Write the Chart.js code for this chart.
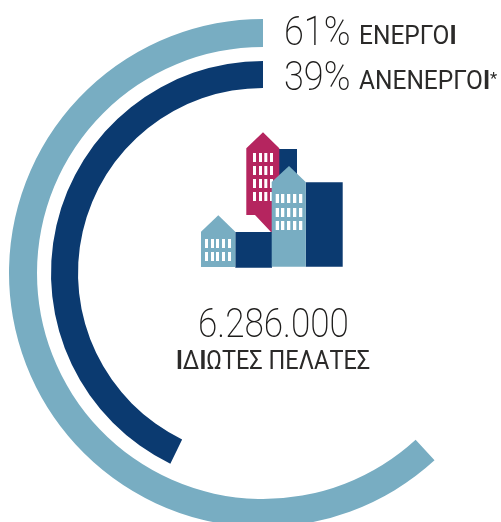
<!DOCTYPE html>
<html lang="el"><head><meta charset="utf-8">
<script src="https://cdn.jsdelivr.net/npm/chart.js@4"></script>
<style>
html,body{margin:0;padding:0;background:#fff;width:501px;height:522px;overflow:hidden}
#wrap{position:relative;width:501px;height:522px;overflow:hidden}
canvas{position:absolute;left:0;top:0}
.t{position:absolute;white-space:nowrap;color:#2b2a29;font-family:Roboto,sans-serif;transform-origin:0 0;line-height:1}
.big{font-weight:200;font-size:41px;color:#1c1b1a}
.small{font-weight:400;font-size:25px}
.t b{font-weight:700}
.t i{font-style:normal;font-size:17px;vertical-align:5px}
</style></head><body>
<div id="wrap"><canvas id="c" width="501" height="522"></canvas>
<div class="t big" style="left:284px;top:11px;transform:scaleX(.88)">61%</div>
<div class="t small" style="left:359px;top:23px;transform:scaleX(.98)">ΕΝΕΡΓΟ<b>Ι</b></div>
<div class="t big" style="left:284px;top:56px;transform:scaleX(.88)">39%</div>
<div class="t small" style="left:359px;top:68px;transform:scaleX(.98)">ΑΝΕΝΕΡΓΟ<b>Ι</b><i>*</i></div>
<div class="t big" style="left:198px;top:303px;transform:scaleX(.855)">6.286.000</div>
<div class="t small" style="left:176px;top:348px;transform:scaleX(.94)"><b>Ι</b>Δ<b>Ι</b>ΩΤΕΣ ΠΕΛΑΤΕΣ</div>
</div>
<script>
const categories = ['ΕΝΕΡΓΟΙ', 'ΑΝΕΝΕΡΓΟΙ'];
const activeArc = [38.2, 61.8];
const inactiveArc = [57.2, 42.8];
const spacerArc = [1];
const colors = ['#78adc2', '#0b3a70'];

const building = {
  id: 'building',
  afterDraw(chart) {
    const ctx = chart.ctx;
    const poly = (col, pts) => {
      ctx.fillStyle = col; ctx.beginPath();
      pts.forEach((p, i) => i ? ctx.lineTo(p[0], p[1]) : ctx.moveTo(p[0], p[1]));
      ctx.closePath(); ctx.fill();
    };
    const windows = (xs, ys, w, h) => {
      ctx.fillStyle = '#fff';
      ys.forEach(y => xs.forEach(x => ctx.fillRect(x, y, w, h)));
    };
    const navy = '#0b3a70', blue = '#78adc2', pink = '#b5255f';
    poly(navy, [[279, 149], [297, 149], [297, 190], [279, 190]]);
    poly(pink, [[246.3, 148.3], [263, 132.3], [279.3, 148.3], [279.3, 232], [271, 232], [255, 215], [246.3, 215]]);
    windows([253, 259, 264.3, 270], [153, 166, 179, 192], 3, 9);
    poly(navy, [[235.3, 232], [272, 232], [272, 267.7], [235.3, 267.7]]);
    poly(navy, [[305.7, 182.3], [342.7, 182.3], [342.7, 266.7], [305.7, 266.7]]);
    poly(blue, [[271.7, 182], [289, 166], [305.7, 182], [305.7, 266.7], [271.7, 266.7]]);
    windows([275.7, 281, 287, 293, 299], [194, 208, 221], 3.3, 9);
    poly(blue, [[201, 231.7], [218.3, 215.3], [235.3, 231.7], [235.3, 267], [201, 267]]);
    windows([205, 211, 216, 222, 228], [239, 252], 3, 9);
  }
};

new Chart(document.getElementById('c'), {
  type: 'doughnut',
  data: {
    labels: ['', ...categories],
    datasets: [
      { data: activeArc, backgroundColor: ['rgba(0,0,0,0)', colors[0]], borderWidth: 0, weight: 28 },
      { data: spacerArc, backgroundColor: ['rgba(0,0,0,0)'], borderWidth: 0, weight: 14 },
      { data: inactiveArc, backgroundColor: ['rgba(0,0,0,0)', colors[1]], borderWidth: 0, weight: 27 }
    ]
  },
  options: {
    responsive: false,
    animation: false,
    radius: 254,
    cutout: '72.83%',
    layout: { padding: { left: 25, top: 24 } },
    plugins: { legend: { display: false }, tooltip: { enabled: false } }
  },
  plugins: [building]
});
</script>
</body></html>
